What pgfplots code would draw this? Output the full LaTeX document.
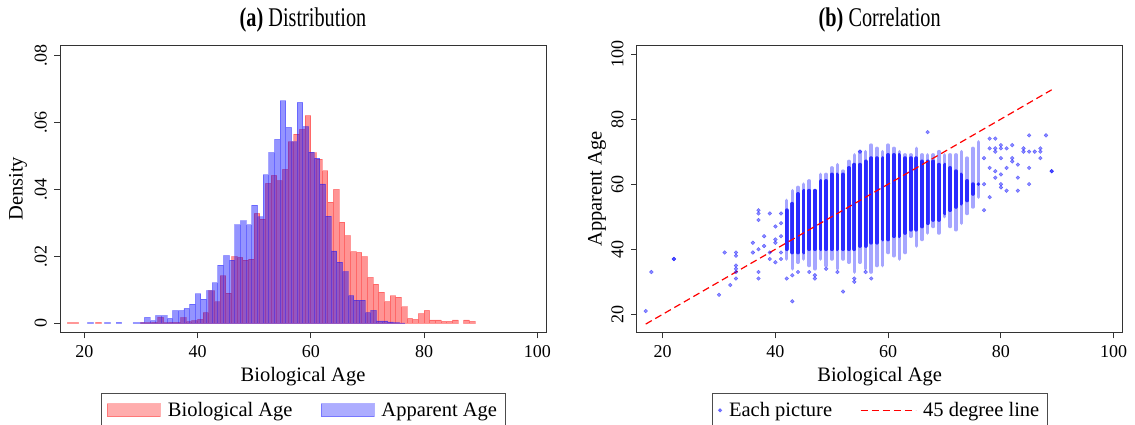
\documentclass[border=0pt]{standalone}
\usepackage{fontspec}
\setmainfont{Liberation Serif}
\usepackage{graphicx}
\usepackage{pgfplots}
\usepackage{pgfplotstable}
\pgfplotsset{compat=1.18}

% scatter cloud, one row per biological age: full range (lo-hi) and dense core (clo-chi)
\pgfplotstableread{
x  lo hi clo chi
42 37 55 40 52
43 34 58 39 54
44 36 59 39 57
45 37 60 39 58
46 35 61 40 58
47 34 58 40 58
48 37 63 40 61
49 35 63 40 61
50 37 65 40 63
51 34 66 40 63
52 37 64 40 63
53 36 67 40 65
54 33 69 40 66
55 36 70 41 66
56 34 70 41 67
57 33 72 42 68
58 35 71 42 68
59 35 70 43 68
60 39 72 43 69
61 38 71 44 69
62 37 70 44 69
63 39 69 45 68
64 44 69 46 68
65 41 71 46 68
66 43 69 47 67
67 45 69 48 67
68 47 69 49 67
69 45 70 49 66
70 50 69 51 66
71 47 69 52 65
72 46 69 53 64
73 48 70 54 63
74 51 68 55 61
75 53 71 57 60
76 56 73 60 60
}\cloud

\pgfplotstableread{
x y
17 21
18 33
22 37
22 37
30 26
31 39
32 29
33 39
33 38
33 35
33 34
33 33
33 31
36 42
36 39
37 52
37 51
37 49
37 40
37 33
37 31
38 44
38 41
39 51
39 39
39 37
40 47
40 43
40 42
40 36
41 51
41 48
41 44
41 39
41 37
42 31
43 32
43 24
44 33
46 33
47 32
47 31
49 34
51 33
52 27
54 31
54 30
56 33
57 31
55 70
67 76
77 68
77 60
77 52
78 74
78 71
78 65
78 56
79 74
79 71
79 70
79 64
79 62
80 72
80 71
80 68
80 63
80 60
80 59
81 71
81 65
81 58
82 72
82 68
82 67
83 66
83 62
83 58
84 71
84 70
85 75
85 70
85 65
85 60
86 70
87 71
87 70
87 68
88 75
89 64
89 64
}\outliers

\pgfplotsset{
  stata/.style={
    scale only axis, width=486pt, height=287.7pt,
    axis line style={black!80, line width=0.9pt},
    tick align=outside, major tick length=5.7pt,
    tick style={black!80, line width=0.9pt},
    xtick pos=bottom, ytick pos=left,
    /pgf/number format/assume math mode=true,
    tick label style={font=\fontsize{18}{20}\selectfont},
    xticklabel style={yshift=-4pt},
    yticklabel style={xshift=-4pt, rotate=90, anchor=south},
    label style={font=\fontsize{20.5}{22}\selectfont},
    every axis title shift=0pt,
    title style={font=\fontsize{27}{29}\selectfont, at={(axis description cs:0.5,1.066)}, anchor=base, yshift=0pt},
    xlabel style={at={(axis description cs:0.5,-0.154)}, anchor=center},
    legend columns=2,
    legend style={at={(0.5,-0.2096)}, anchor=north, draw=black!70, line width=0.8pt,
      font=\fontsize{20.5}{22}\selectfont, inner xsep=6pt, inner ysep=7pt,
      /tikz/every odd column/.append style={column sep=5pt},
      /tikz/every even column/.append style={column sep=26pt}},
    xtick={20,40,60,80,100},
  },
  redbar/.style={ybar, bar width=1, bar shift=0pt, fill=red, fill opacity=0.42, draw=red, draw opacity=0.3, line width=0.9pt},
  bluebar/.style={ybar, bar width=1, bar shift=0pt, fill=blue, fill opacity=0.42, draw=blue, draw opacity=0.3, line width=0.9pt},
}

\begin{document}
\begin{tikzpicture}
\begin{axis}[stata, at={(60pt,-332.7pt)}, anchor=south west,
  xmin=15.71, xmax=101.54, ymin=-0.0028, ymax=0.0831,
  ytick={0,0.02,0.04,0.06,0.08}, yticklabels={0,.02,.04,.06,.08},
  scaled y ticks=false,
  title={\scalebox{0.75}[1]{\textbf{(a)} Distribution}},
  xlabel={Biological Age}, ylabel={Density},
  ylabel style={at={(axis description cs:-0.0864,0.5)}, anchor=center, rotate=0},
]
\addplot[redbar, forget plot] coordinates {
(17.5,.0002) (18.5,.0002) (22.5,.0003) (30.5,.0002) (31.5,.0002) (32.5,.0003)
(33.5,.0018) (34.5,.0002) (35.5,.0003) (36.5,.0003) (37.5,.0017) (38.5,.0005)
(39.5,.0008) (40.5,.0012) (41.5,.0032) (42.5,.0097) (43.5,.0064) (44.5,.0142)
(45.5,.0090) (46.5,.0199) (47.5,.0197) (48.5,.0189) (49.5,.0192) (50.5,.0328)
(51.5,.0311) (52.5,.0418) (53.5,.0442) (54.5,.0426) (55.5,.0460) (56.5,.0542)
(57.5,.0565) (58.5,.0579) (59.5,.0620) (60.5,.0509) (61.5,.0490) (62.5,.0455)
(63.5,.0362) (64.5,.0400) (65.5,.0302) (66.5,.0262) (67.5,.0214) (68.5,.0212)
(69.5,.0199) (70.5,.0137) (71.5,.0117) (72.5,.0093) (73.5,.0065) (74.5,.0082)
(75.5,.0078) (76.5,.0049) (77.5,.0015) (78.5,.0012) (79.5,.0029) (80.5,.0039)
(81.5,.0010) (82.5,.0010) (83.5,.0006) (84.5,.0006) (85.5,.0010) (87.5,.0010)
(88.5,.0006)
};
\addplot[bluebar, forget plot] coordinates {
(21.1,.0002) (24.1,.0002) (26.1,.0003) (29.1,.0002) (30.1,.0002) (31.1,.0018)
(32.1,.0008) (33.1,.0023) (34.1,.0023) (35.1,.0015) (36.1,.0038) (37.1,.0038)
(38.1,.0045) (39.1,.0057) (40.1,.0088) (41.1,.0072) (42.1,.0098) (43.1,.0121)
(44.1,.0174) (45.1,.0202) (46.1,.0189) (47.1,.0294) (48.1,.0306) (49.1,.0294)
(50.1,.0353) (51.1,.0318) (52.1,.0443) (53.1,.0510) (54.1,.0549) (55.1,.0664)
(56.1,.0585) (57.1,.0542) (58.1,.0660) (59.1,.0587) (60.1,.0511) (61.1,.0493)
(62.1,.0416) (63.1,.0320) (64.1,.0216) (65.1,.0183) (66.1,.0154) (67.1,.0083)
(68.1,.0069) (69.1,.0069) (70.1,.0032) (71.1,.0039) (72.1,.0007) (73.1,.0007)
(74.1,.0004) (75.1,.0002) (76.1,.0001)
};
\addlegendimage{legend image code/.code={\draw[fill=red, fill opacity=0.32, draw=red, draw opacity=0.3, line width=0.9pt] (0pt,-6.5pt) rectangle (53pt,6.5pt);}}
\addlegendentry{Biological Age}
\addlegendimage{legend image code/.code={\draw[fill=blue, fill opacity=0.32, draw=blue, draw opacity=0.3, line width=0.9pt] (0pt,-6.5pt) rectangle (53pt,6.5pt);}}
\addlegendentry{Apparent Age}
\end{axis}

\begin{axis}[stata, at={(636.7pt,-332.7pt)}, anchor=south west,
  xmin=15.4, xmax=101.6, ymin=14.35, ymax=102.77,
  ytick={20,40,60,80,100},
  title={\scalebox{0.75}[1]{\textbf{(b)} Correlation}},
  xlabel={Biological Age}, ylabel={Apparent Age},
  ylabel style={at={(axis description cs:-0.0816,0.5)}, anchor=center, rotate=0},
]
\addplot[draw=none, mark=none, forget plot,
  error bars/.cd, y dir=plus, y explicit, error mark=none,
  error bar style={blue, draw opacity=0.35, line width=3.6pt, line cap=round}]
  table[x=x, y=lo, y error plus expr=\thisrow{hi}-\thisrow{lo}] {\cloud};
\addplot[draw=none, mark=none, forget plot,
  error bars/.cd, y dir=plus, y explicit, error mark=none,
  error bar style={blue, draw opacity=0.75, line width=3.8pt, line cap=round}]
  table[x=x, y=clo, y error plus expr=\thisrow{chi}-\thisrow{clo}] {\cloud};
\addplot[only marks, mark=*, mark size=1.9pt, forget plot, blue, opacity=0.45,
  mark options={solid, draw=none, fill=blue}]
  table[x=x, y=y] {\outliers};
\addplot[red, line width=1.2pt, dash pattern=on 7pt off 4pt, forget plot]
  coordinates {(17,17) (89,89)};
\addlegendimage{legend image code/.code={\fill[blue, opacity=0.45] (3pt,0pt) circle (1.6pt);}}
\addlegendentry{Each picture}
\addlegendimage{legend image code/.code={\draw[red, line width=1.1pt, dash pattern=on 7pt off 4pt] (0pt,0pt) -- (55pt,0pt);}}
\addlegendentry{45 degree line}
\end{axis}
\pgfresetboundingbox
\useasboundingbox (0pt,0pt) rectangle (1135pt,-425pt);
\end{tikzpicture}
\end{document}
